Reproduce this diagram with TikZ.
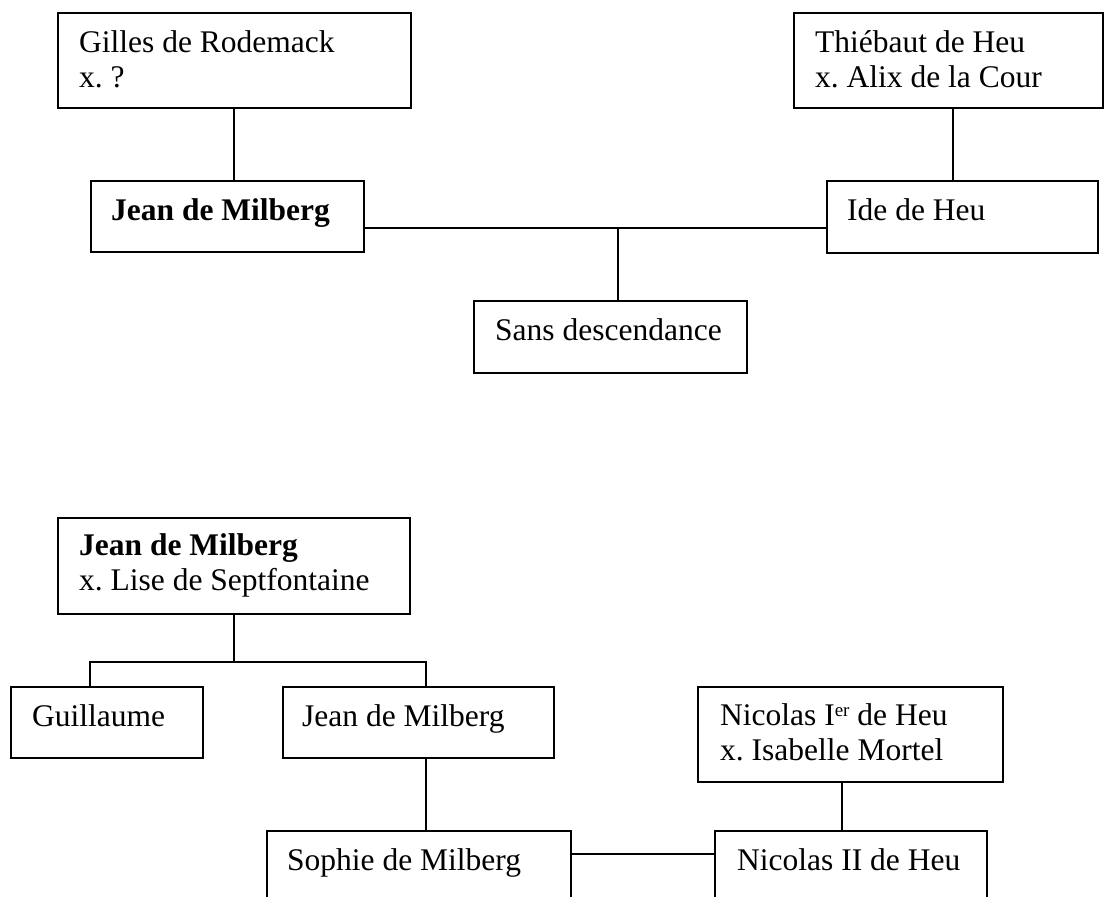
\documentclass[tikz,border=0pt]{standalone}
\usepackage{fontspec}
\setmainfont{Liberation Serif}
\frenchspacing
\begin{document}
\begin{tikzpicture}[x=1pt,y=-1pt,
  box/.style={draw, rectangle, line width=1.6pt, inner sep=0pt, anchor=north west},
  txt/.style={anchor=base west, inner sep=0pt, font=\fontsize{31.5}{35}\selectfont},
  link/.style={line width=1.4pt}]
\useasboundingbox (0,0) rectangle (1104,897);
\clip (0,0) rectangle (1104,897);
% ---- upper tree ----
\node[box, minimum width=353pt, minimum height=95pt] (gilles) at (57,12) {};
\node[txt] (tgilles1) at (79,52.5) {Gilles de Rodemack};
\node[txt] (tgilles2) at (79,87.5) {x. ?};
\node[box, minimum width=273pt, minimum height=71pt] (jeanA) at (90,180) {};
\node[txt] (tjeanA) at (111,220.5) {\bfseries Jean de Milberg};
\node[box, minimum width=309pt, minimum height=95pt] (thiebaut) at (793,12) {};
\node[txt] (tthieb1) at (815,52.5) {Thiébaut de Heu};
\node[txt] (tthieb2) at (815,87.5) {x. Alix de la Cour};
\node[box, minimum width=271pt, minimum height=72pt] (ide) at (826,180) {};
\node[txt] (tide) at (847,220.5) {Ide de Heu};
\node[box, minimum width=273pt, minimum height=72pt] (sans) at (473,300) {};
\node[txt] (tsans) at (495,340.5) {Sans descendance};
\coordinate (m1) at (618,228);
\coordinate (gx) at (234,140);
\coordinate (tx) at (953,140);
\draw[link] (gx |- gilles.south) -- (gx |- jeanA.north);
\draw[link] (tx |- thiebaut.south) -- (tx |- ide.north);
\draw[link] (jeanA.east |- m1) -- (ide.west |- m1);
\draw[link] (m1) -- (m1 |- sans.north);
% ---- lower tree ----
\node[box, minimum width=352pt, minimum height=96pt] (lise) at (57,517) {};
\node[txt] (tlise1) at (79,555.5) {\bfseries Jean de Milberg};
\node[txt] (tlise2) at (79,590.5) {x. Lise de Septfontaine};
\node[box, minimum width=192pt, minimum height=71pt] (guil) at (10,686) {};
\node[txt] (tguil) at (32,726.5) {Guillaume};
\node[box, minimum width=271pt, minimum height=71pt] (jeanB) at (282,686) {};
\node[txt] (tjeanB) at (302,726.5) {Jean de Milberg};
\node[box, minimum width=305pt, minimum height=95pt] (nic1) at (697,686) {};
\node[txt] (tnic1a) at (720,725.5) {Nicolas I\raisebox{9pt}{\fontsize{19}{19}\selectfont er} de Heu};
\node[txt] (tnic1b) at (720,760.5) {x. Isabelle Mortel};
\node[box, minimum width=304pt, minimum height=75pt] (sophie) at (266,830) {};
\node[txt] (tsophie) at (287,870.5) {Sophie de Milberg};
\node[box, minimum width=272pt, minimum height=75pt] (nic2) at (714,830) {};
\node[txt] (tnic2) at (737,870.5) {Nicolas II de Heu};
\coordinate (fl) at (90,662);
\coordinate (fm) at (234,662);
\coordinate (fr) at (426,662);
\coordinate (nx) at (842,806);
\coordinate (m2) at (640,854);
\draw[link] (fm |- lise.south) -- (fm);
\draw[link] (fl |- guil.north) -- (fl) -- (fr) -- (fr |- jeanB.north);
\draw[link] (fr |- jeanB.south) -- (fr |- sophie.north);
\draw[link] (nx |- nic1.south) -- (nx |- nic2.north);
\draw[link] (sophie.east |- m2) -- (nic2.west |- m2);
\end{tikzpicture}
\end{document}
